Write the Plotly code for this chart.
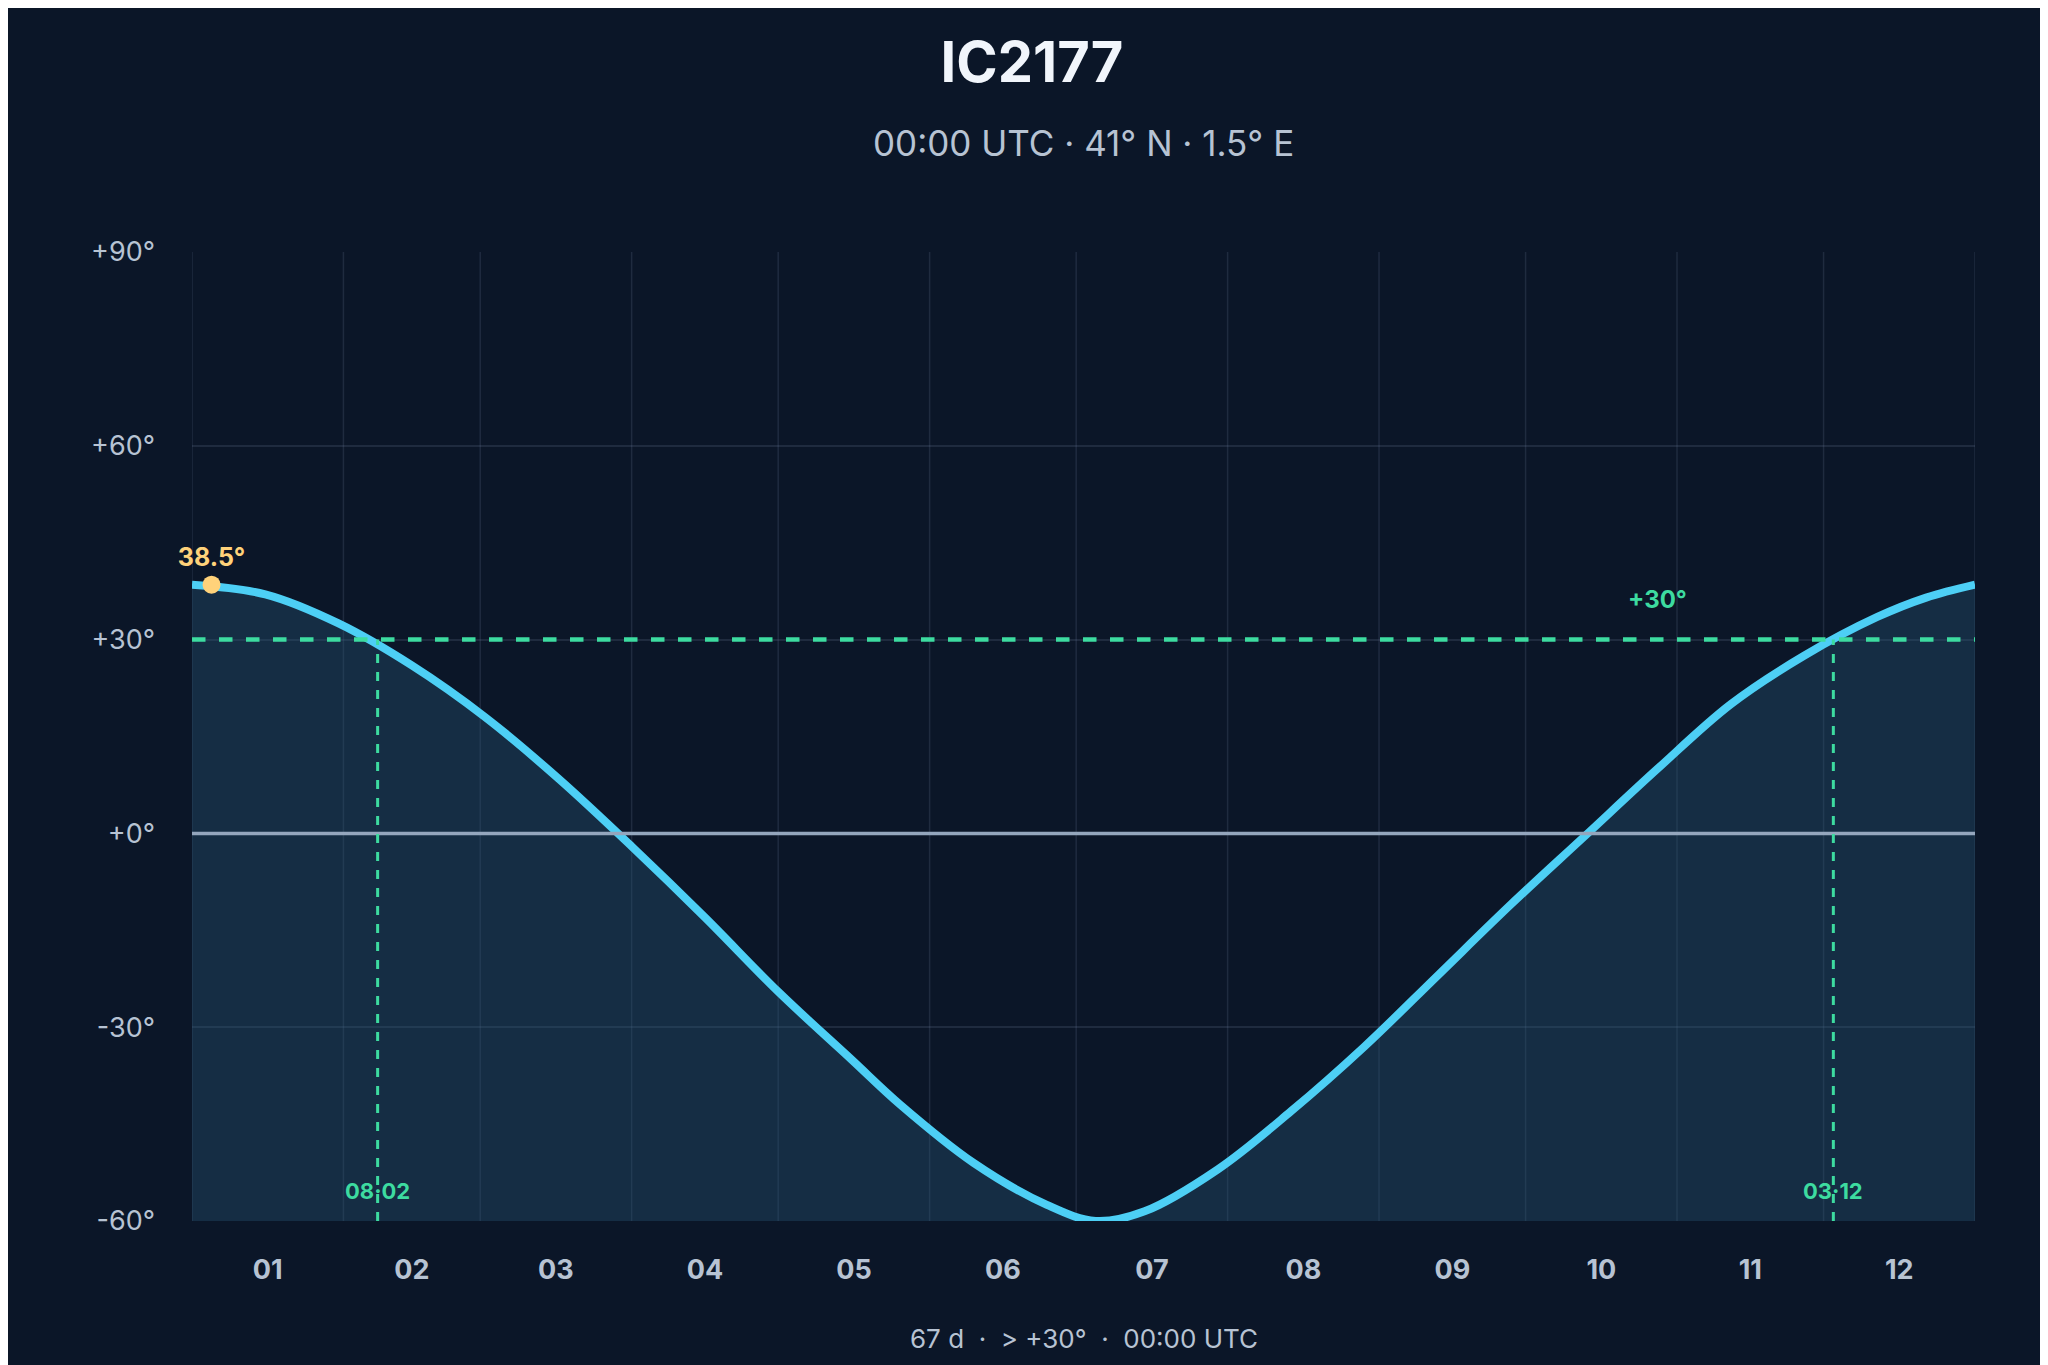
import plotly.graph_objects as go

days = [0, 15, 30, 45, 60, 75, 90, 105, 120, 135, 145, 160, 175, 185, 195, 210, 225, 240, 255, 270, 285, 300, 315, 330, 345, 355, 365]
alt = [38.5, 37.0, 32.5, 26.0, 18.0, 8.5, -2.0, -13.0, -24.5, -35.0, -42.0, -51.0, -57.5, -60.0, -58.5, -52.0, -43.0, -33.0, -22.0, -11.0, -0.5, 10.0, 20.0, 27.5, 33.5, 36.5, 38.5]
month_starts = [0, 31, 59, 90, 120, 151, 181, 212, 243, 273, 304, 334, 365]
month_labels = ["01", "02", "03", "04", "05", "06", "07", "08", "09", "10", "11", "12"]
threshold = 30
cross_days = [38, 336]
cross_labels = ["08·02", "03·12"]
peak_day, peak_val = 4, 38.5
ymin, ymax = -60, 90

BG = "#0b1628"
GRID = "rgba(120,140,170,0.18)"
TEAL = "#3ddba0"
CURVE = "#4dcff5"

fig = go.Figure()
fig.add_trace(go.Scatter(x=[days[0], days[-1]], y=[ymin, ymin], mode="lines",
                         line=dict(width=0), hoverinfo="skip", showlegend=False))
fig.add_trace(go.Scatter(x=days, y=alt, mode="lines", line=dict(color=CURVE, width=8, shape="spline"),
                         fill="tonexty", fillcolor="rgba(40,90,120,0.35)", showlegend=False,
                         cliponaxis=False))
fig.add_trace(go.Scatter(x=[peak_day], y=[peak_val], mode="markers+text",
                         marker=dict(color="#ffd27a", size=18),
                         text=[f"{peak_val}°"], textposition="top center", cliponaxis=False,
                         textfont=dict(color="#ffd27a", size=25, family="Inter", weight="bold"),
                         showlegend=False))

shapes = []
for m in month_starts:
    shapes.append(dict(type="line", xref="x", yref="y", x0=m, x1=m, y0=ymin, y1=ymax,
                       line=dict(color=GRID, width=1.5), layer="below"))
shapes.append(dict(type="line", xref="x", yref="y", x0=0, x1=365, y0=0, y1=0,
                   line=dict(color="#94a6bd", width=3.5)))
shapes.append(dict(type="line", xref="x", yref="y", x0=0, x1=365, y0=threshold, y1=threshold,
                   line=dict(color=TEAL, width=4.5, dash="dash")))
annotations = []
for d, lab in zip(cross_days, cross_labels):
    shapes.append(dict(type="line", xref="x", yref="y", x0=d, x1=d, y0=ymin, y1=threshold,
                       line=dict(color=TEAL, width=3, dash="dash")))
    annotations.append(dict(x=d, y=ymin, yshift=30, text=lab, showarrow=False, xref="x", yref="y",
                            font=dict(color=TEAL, size=22, family="Inter", weight="bold")))
annotations.append(dict(x=300, y=threshold, yshift=40, text="+30°", showarrow=False, xref="x", yref="y",
                        font=dict(color=TEAL, size=24, family="Inter", weight="bold")))
annotations.append(dict(x=0.5, y=-0.121, xref="paper", yref="paper", yanchor="middle",
                        text="67 d  ·  > +30°  ·  00:00 UTC", showarrow=False,
                        font=dict(color="#b7c3d3", size=26, family="Inter")))
annotations.append(dict(x=0.5, y=1.112, xref="paper", yref="paper", yanchor="middle",
                        text="00:00 UTC · 41° N · 1.5° E", showarrow=False,
                        font=dict(color="#b7c3d3", size=35, family="Inter")))

mids = [(month_starts[i] + month_starts[i + 1]) / 2 for i in range(12)]
fig.update_layout(
    width=2048, height=1365, paper_bgcolor=BG, plot_bgcolor=BG,
    margin=dict(l=184, r=81, t=244, b=152),
    title=dict(text="<b>IC2177</b>", x=0.5, y=0.96, yanchor="middle",
               font=dict(color="#f1f5fb", size=56, family="Inter")),
    xaxis=dict(range=[0, 365], tickvals=mids, ticktext=month_labels, showgrid=False, zeroline=False,
               ticks="", ticklabelstandoff=30,
               tickfont=dict(color="#b7c3d3", size=27, family="Inter", weight="bold")),
    yaxis=dict(range=[ymin, ymax], tickvals=[-60, -30, 0, 30, 60, 90],
               ticktext=["-60°", "-30°", "+0°", "+30°", "+60°", "+90°"],
               gridcolor=GRID, gridwidth=1.5, zeroline=False, ticks="", ticklabelstandoff=36,
               tickfont=dict(color="#b7c3d3", size=27, family="Inter")),
    shapes=shapes, annotations=annotations,
)
fig.write_html("out.html")
